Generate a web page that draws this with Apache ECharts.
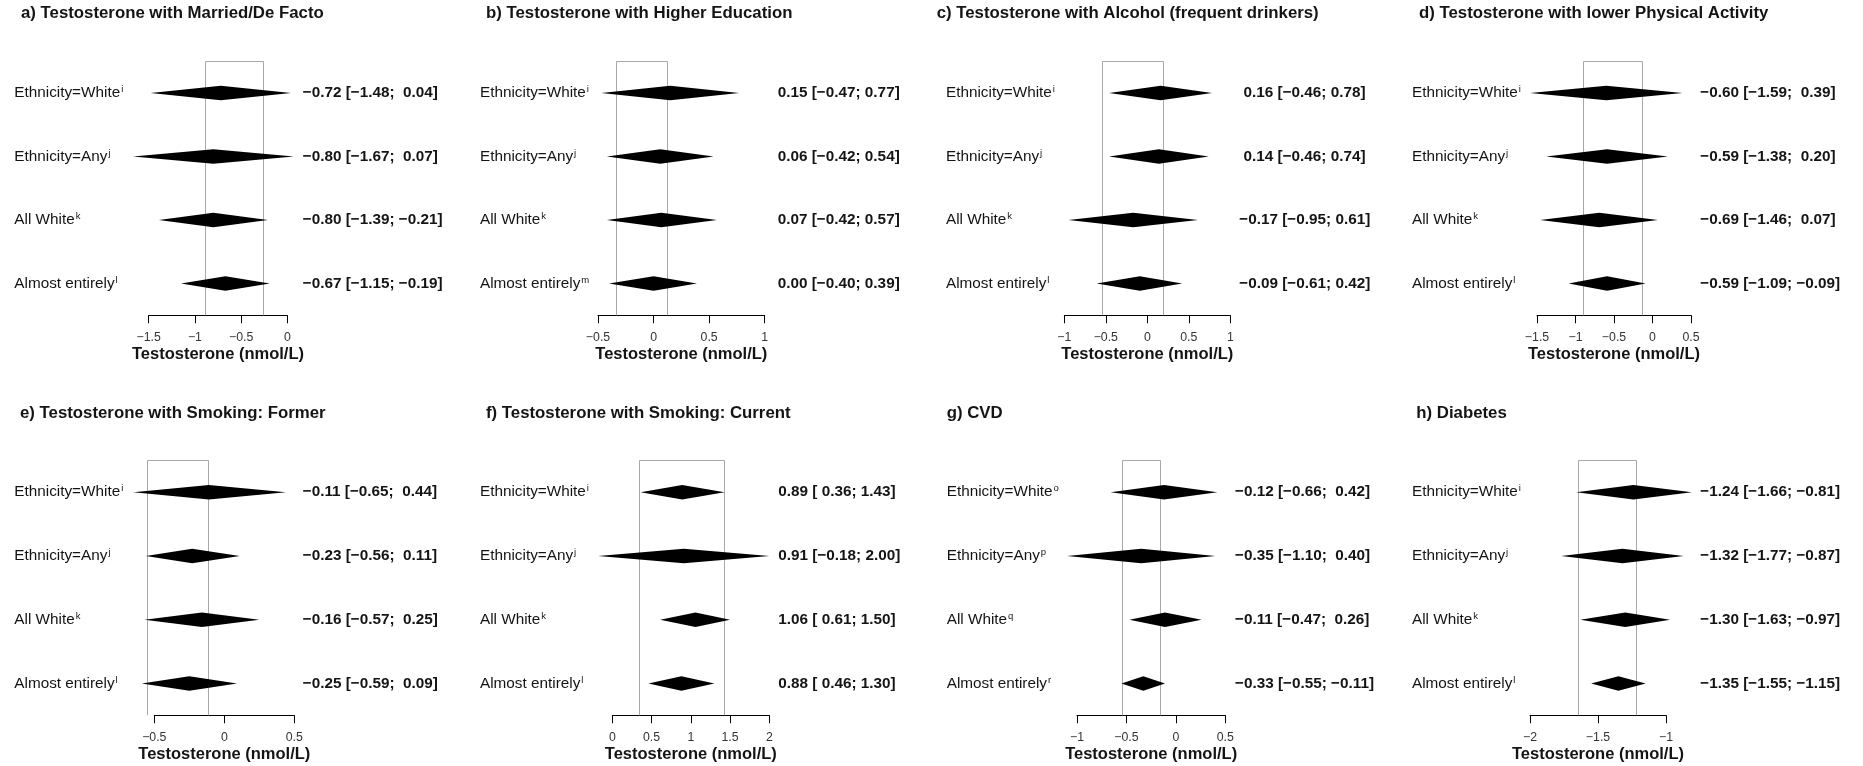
<!DOCTYPE html>
<html>
<head>
<meta charset="utf-8">
<script src="https://cdn.jsdelivr.net/npm/echarts@6/dist/echarts.min.js"></script>
<style>
  html, body { margin: 0; padding: 0; background: #fff; }
  #chart { width: 1863px; height: 766px; }
</style>
</head>
<body>
<div id="chart"></div>
<script>
// ---------- DATA ----------
const panelTitles = [
  'a) Testosterone with Married/De Facto',
  'b) Testosterone with Higher Education',
  'c) Testosterone with Alcohol (frequent drinkers)',
  'd) Testosterone with lower Physical Activity',
  'e) Testosterone with Smoking: Former',
  'f) Testosterone with Smoking: Current',
  'g) CVD',
  'h) Diabetes'
];
const rowNames = ['Ethnicity=White', 'Ethnicity=Any', 'All White', 'Almost entirely'];
const superscripts = [
  ['i', 'j', 'k', 'l'],
  ['i', 'j', 'k', 'm'],
  ['i', 'j', 'k', 'l'],
  ['i', 'j', 'k', 'l'],
  ['i', 'j', 'k', 'l'],
  ['i', 'j', 'k', 'l'],
  ['o', 'p', 'q', 'r'],
  ['i', 'j', 'k', 'l']
];
// estimates, lower and upper CI per panel (rows in rowNames order)
const estimates = [
  [-0.72, -0.80, -0.80, -0.67],
  [0.15, 0.06, 0.07, 0.00],
  [0.16, 0.14, -0.17, -0.09],
  [-0.60, -0.59, -0.69, -0.59],
  [-0.11, -0.23, -0.16, -0.25],
  [0.89, 0.91, 1.06, 0.88],
  [-0.12, -0.35, -0.11, -0.33],
  [-1.24, -1.32, -1.30, -1.35]
];
const lowerCI = [
  [-1.48, -1.67, -1.39, -1.15],
  [-0.47, -0.42, -0.42, -0.40],
  [-0.46, -0.46, -0.95, -0.61],
  [-1.59, -1.38, -1.46, -1.09],
  [-0.65, -0.56, -0.57, -0.59],
  [0.36, -0.18, 0.61, 0.46],
  [-0.66, -1.10, -0.47, -0.55],
  [-1.66, -1.77, -1.63, -1.55]
];
const upperCI = [
  [0.04, 0.07, -0.21, -0.19],
  [0.77, 0.54, 0.57, 0.39],
  [0.78, 0.74, 0.61, 0.42],
  [0.39, 0.20, 0.07, -0.09],
  [0.44, 0.11, 0.25, 0.09],
  [1.43, 2.00, 1.50, 1.30],
  [0.42, 0.40, 0.26, -0.11],
  [-0.81, -0.87, -0.97, -1.15]
];
// grey reference box (x range) per panel
const boxLow  = [-0.89, -0.34, -0.55, -0.90, -0.55, 0.34, -0.54, -1.65];
const boxHigh = [-0.26, 0.12, 0.19, -0.13, -0.12, 1.42, -0.16, -1.22];
// x axis tick range per panel
const axisMin = [-1.5, -0.5, -1, -1.5, -0.5, 0, -1, -2];
const axisMax = [0, 1, 1, 0.5, 0.5, 2, 0.5, -1];
const tickStep = 0.5;
// number padding flags (estimate, lower, upper) as printed
const padFlags = [
  [0, 0, 1], [0, 0, 0], [1, 0, 0], [0, 0, 1],
  [0, 0, 1], [0, 1, 0], [0, 0, 1], [0, 0, 0]
];
const xAxisTitle = 'Testosterone (nmol/L)';

// ---------- LAYOUT (pixels) ----------
const gridLeftPx  = [148.7, 598, 1064.3, 1537, 154.3, 612.3, 1077, 1530];
const gridRightPx = [287.3, 764.7, 1230.3, 1691, 294.3, 769.3, 1225.3, 1666];
const labelXPx    = [14.3, 480, 946, 1412, 14.3, 480, 946.7, 1412];
const textXPx     = [302.7, 777.7, 1239.3, 1700.3, 302.7, 778.3, 1235, 1700.3];
const titleXPx    = [21, 486, 936.7, 1419, 20, 486, 946.7, 1416.3];
const rowTop = [61.3, 460.3];
const rowHeight = [254, 255];
const titleCenterY = [14, 413.7];

const FONT = '"Liberation Sans", Arial, Helvetica, sans-serif';
const TXT = '#141414';

function num(v, pad) {
  const s = (v < 0 ? '\u2212' : '') + Math.abs(v).toFixed(2);
  return (pad && v >= 0) ? ' ' + s : s;
}
function ciLabel(p, i) {
  const f = padFlags[p];
  return num(estimates[p][i], f[0]) + ' [' + num(lowerCI[p][i], f[1]) + '; ' + num(upperCI[p][i], f[2]) + ']';
}
function tickFmt(v) {
  const r = Math.round(v * 100) / 100;
  return r < 0 ? '\u2212' + String(Math.abs(r)) : String(r);
}

const grids = [], xAxes = [], yAxes = [], series = [], titles = [];

for (let p = 0; p < 8; p++) {
  const r = p < 4 ? 0 : 1;
  grids.push({
    left: gridLeftPx[p],
    width: gridRightPx[p] - gridLeftPx[p],
    top: rowTop[r],
    height: rowHeight[r],
    containLabel: false
  });
  titles.push({
    text: panelTitles[p],
    left: titleXPx[p],
    top: titleCenterY[r] - 9,
    padding: 0,
    textStyle: { fontFamily: FONT, fontSize: 16.8, fontWeight: 'bold', color: TXT }
  });
  xAxes.push({
    type: 'value',
    gridIndex: p,
    min: axisMin[p],
    max: axisMax[p],
    interval: tickStep,
    splitLine: { show: false },
    axisLine: { show: true, lineStyle: { color: '#000', width: 1 } },
    axisTick: { show: true, length: 8, lineStyle: { color: '#000', width: 1 } },
    axisLabel: {
      formatter: tickFmt, fontFamily: FONT, fontSize: 12.3, color: '#333', margin: 16
    },
    name: xAxisTitle,
    nameLocation: 'middle',
    nameGap: 31,
    nameTextStyle: { fontFamily: FONT, fontSize: 16.5, fontWeight: 'bold', color: TXT }
  });
  const sup = superscripts[p];
  yAxes.push({
    type: 'category',
    gridIndex: p,
    data: rowNames,
    inverse: true,
    position: 'left',
    axisLine: { show: false },
    axisTick: { show: false },
    splitLine: { show: false },
    axisLabel: {
      align: 'left',
      margin: gridLeftPx[p] - labelXPx[p],
      formatter: (v, i) => '{n|' + v + '}{s|' + sup[i] + '}',
      rich: {
        n: { fontFamily: FONT, fontSize: 15.3, color: TXT, lineHeight: 17 },
        s: { fontFamily: FONT, fontSize: 9.5, color: TXT, lineHeight: 10, verticalAlign: 'top', padding: [0, 0, 0, 1] }
      }
    }
  });
  yAxes.push({
    type: 'category',
    gridIndex: p,
    data: rowNames,
    inverse: true,
    position: 'right',
    axisLine: { show: false },
    axisTick: { show: false },
    splitLine: { show: false },
    axisLabel: {
      align: 'left',
      margin: textXPx[p] - gridRightPx[p],
      formatter: (v, i) => ciLabel(p, i),
      fontFamily: FONT, fontSize: 15.3, fontWeight: 'bold', color: TXT
    }
  });
  // reference box
  series.push({
    type: 'custom',
    xAxisIndex: p,
    yAxisIndex: 2 * p,
    clip: false,
    silent: true,
    z: 1,
    data: [[boxLow[p], 0, boxHigh[p]]],
    encode: { x: [0, 2], y: 1 },
    renderItem: function (params, api) {
      const band = api.size([0, 1])[1];
      const a = api.coord([api.value(0), 0]);
      const b = api.coord([api.value(2), rowNames.length - 1]);
      const top = a[1] - band / 2;
      const bottom = b[1] + band / 2;
      const xl = Math.round(a[0]) + 0.5, xr = Math.round(b[0]) + 0.5;
      const yt = Math.round(top) + 0.5;
      return {
        type: 'polyline',
        shape: { points: [[xl, bottom], [xl, yt], [xr, yt], [xr, bottom]] },
        style: { stroke: '#a8a8a8', lineWidth: 1, fill: null }
      };
    }
  });
  // diamonds
  series.push({
    type: 'custom',
    xAxisIndex: p,
    yAxisIndex: 2 * p,
    clip: false,
    silent: true,
    z: 3,
    data: estimates[p].map((e, i) => [e, i, lowerCI[p][i], upperCI[p][i]]),
    encode: { x: [0, 2, 3], y: 1 },
    renderItem: function (params, api) {
      const yi = api.value(1);
      const c = api.coord([api.value(0), yi]);
      const l = api.coord([api.value(2), yi]);
      const rr = api.coord([api.value(3), yi]);
      const h = 7.3;
      return {
        type: 'polygon',
        shape: { points: [[l[0], c[1]], [c[0], c[1] - h], [rr[0], c[1]], [c[0], c[1] + h]] },
        style: { fill: '#000', stroke: null }
      };
    }
  });
}

const chart = echarts.init(document.getElementById('chart'), null, { renderer: 'canvas' });
chart.setOption({
  animation: false,
  backgroundColor: '#fff',
  title: titles,
  grid: grids,
  xAxis: xAxes,
  yAxis: yAxes,
  series: series
});
</script>
</body>
</html>
